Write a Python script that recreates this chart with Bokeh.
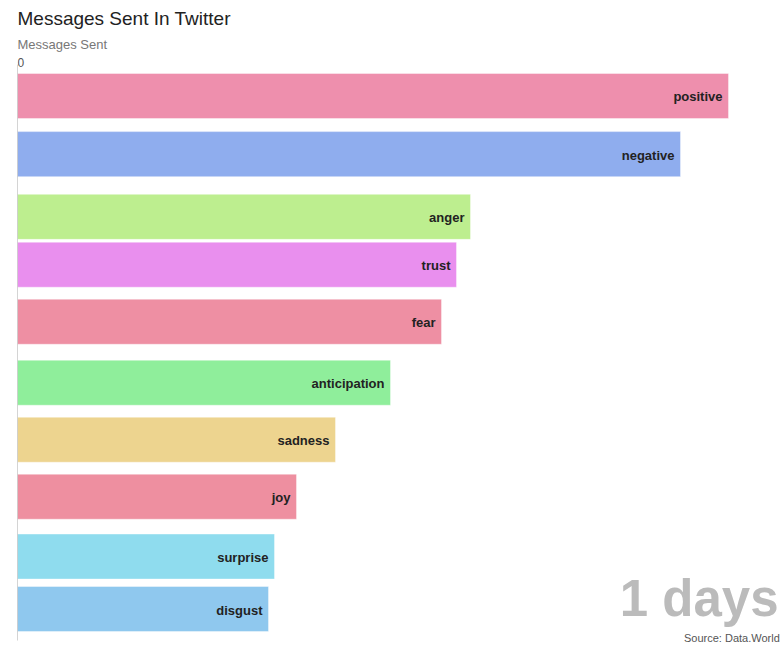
from bokeh.plotting import figure
from bokeh.models import ColumnDataSource, Range1d, Label
from bokeh.core.properties import value
from bokeh.embed import file_html
from bokeh.resources import INLINE

# data
emotions = ["positive", "negative", "anger", "trust", "fear",
            "anticipation", "sadness", "joy", "surprise", "disgust"]
messages = [7110, 6630, 4530, 4390, 4240, 3730, 3180, 2790, 2570, 2510]
# rank positions mid-transition (bar-chart race frame)
ranks = [0.0, 1.02, 2.12, 2.96, 3.96, 5.03, 6.03, 7.03, 8.08, 9.0]
colors = ["#ee8fad", "#8fadee", "#bdee8f", "#e98fee", "#ee8fa3",
          "#8fee9b", "#edd48f", "#ee8fa0", "#8fdcee", "#8fc8ee"]
x_ticks = [0]
day_label = "1 days"

FONT = "Liberation Sans"

p = figure(width=782, height=658, output_backend="svg", toolbar_location=None,
           x_axis_location=None, y_axis_location=None,
           x_range=Range1d(0, 7630), y_range=Range1d(9.8684, -1.6754),
           min_border_left=17, min_border_right=2, min_border_top=0,
           min_border_bottom=0)
p.outline_line_color = None
p.xgrid.visible = False
p.ygrid.visible = False
p.background_fill_color = "white"
p.border_fill_color = "white"

src = ColumnDataSource(dict(emotion=emotions, value=messages, rank=ranks, color=colors))

p.hbar(y="rank", left=0, right="value", height=0.79, fill_color="color",
       line_color="white", line_alpha=0.4, source=src)

p.text(x="value", y="rank", text="emotion", x_offset=-6, y_offset=1,
       text_align="right", text_baseline="middle", text_font=value(FONT),
       text_font_style="bold", text_font_size="13px", text_color="#222222",
       source=src)

# left axis line
p.segment(x0=[0], y0=[-0.55], x1=[0], y1=[9.553], line_color="#aaaaaa", line_width=1)

p.add_layout(Label(x=0, y=-1.355, text="Messages Sent In Twitter", text_font=FONT,
                   text_font_size="19px", text_color="#222222",
                   text_baseline="middle", text_align="left"))
p.add_layout(Label(x=0, y=-0.895, text="Messages Sent", text_font=FONT,
                   text_font_size="13px", text_color="#777777",
                   text_baseline="middle", text_align="left"))
for t in x_ticks:
    p.add_layout(Label(x=t, y=-0.588, text=str(t), text_font=FONT,
                       text_font_size="12px", text_color="#555555",
                       text_baseline="middle", text_align="left"))

p.add_layout(Label(x=7610, y=8.81, text=day_label, text_font=FONT,
                   text_font_size="51px", text_font_style="bold",
                   text_color="#bbbbbb", text_baseline="middle",
                   text_align="right"))
p.add_layout(Label(x=7623, y=9.51, text="Source: Data.World", text_font=FONT,
                   text_font_size="11px", text_color="#555555",
                   text_baseline="middle", text_align="right"))

open("out.html", "w").write(file_html(p, INLINE))
